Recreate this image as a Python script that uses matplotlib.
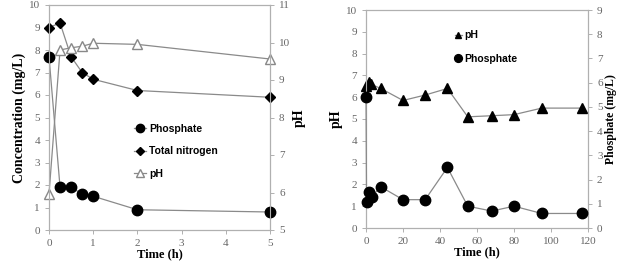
import matplotlib.pyplot as plt

# left panel: short-term test (0-5 h)
time_a = [0, 0.25, 0.5, 0.75, 1, 2, 5]
phosphate_a = [7.7, 1.9, 1.9, 1.6, 1.5, 0.9, 0.8]
nitrogen_a = [9.0, 9.2, 7.7, 7.0, 6.7, 6.2, 5.9]
ph_a = [5.96, 9.8, 9.86, 9.9, 9.98, 9.95, 9.56]

# right panel: long-term test (0-117 h)
time_ph_b = [0, 1.5, 2.5, 8, 20, 32, 44, 55, 68, 80, 95, 117]
ph_b = [6.5, 6.7, 6.6, 6.4, 5.85, 6.1, 6.4, 5.1, 5.15, 5.2, 5.5, 5.5]
time_p_b = [0, 0.3, 1.5, 3, 8, 20, 32, 44, 55, 68, 80, 95, 117]
phosphate_b = [5.4, 1.08, 1.5, 1.3, 1.7, 1.17, 1.17, 2.5, 0.9, 0.7, 0.9, 0.6, 0.6]

serif = "Liberation Serif"
sans = "Liberation Sans"
line_c = "#8a8a8a"
tick_c = "#666666"


def style_axis(ax):
    for s in ax.spines.values():
        s.set_color("#b0b0b0")
        s.set_linewidth(0.8)
    ax.tick_params(colors="#b0b0b0", labelcolor=tick_c, labelsize=8, length=3, width=0.7)
    for lab in ax.get_xticklabels() + ax.get_yticklabels():
        lab.set_family(serif)


fig = plt.figure(figsize=(6.38, 2.63), dpi=100)

# ---- left panel ----
ax1 = fig.add_axes([49 / 638, 1 - 230 / 263, 221 / 638, 225 / 263])
ax1r = ax1.twinx()
l1, = ax1.plot(time_a, phosphate_a, "-o", color=line_c, lw=0.9, mfc="black", mec="black", ms=7.5,
               label="Phosphate", clip_on=False, zorder=3)
l2, = ax1.plot(time_a, nitrogen_a, "-D", color=line_c, lw=0.9, mfc="black", mec="black", ms=5.5,
               label="Total nitrogen", clip_on=False, zorder=3)
l3, = ax1r.plot(time_a, ph_a, "-^", color=line_c, lw=0.9, mfc="white", mec="#888888", ms=7,
                label="pH", clip_on=False)
ax1.set_xlim(0, 5)
ax1.set_ylim(0, 10)
ax1r.set_ylim(5, 11)
ax1.set_yticks(range(0, 11))
ax1r.set_yticks(range(5, 12))
ax1.set_xticks(range(0, 6))
ax1.set_xlabel("Time (h)", family=serif, fontweight="bold", fontsize=9, labelpad=0)
ax1.set_ylabel("Concentration (mg/L)", family=serif, fontweight="bold", fontsize=10, labelpad=2)
ax1r.set_ylabel("pH", family=serif, fontweight="bold", fontsize=10, labelpad=2)
style_axis(ax1)
style_axis(ax1r)
ax1.legend(handles=[l1, l2, l3], loc="center left", bbox_to_anchor=(0.34, 0.35), frameon=False,
           prop={"family": sans, "weight": "bold", "size": 7.5}, handlelength=1.2, handletextpad=0.3,
           labelspacing=1.2, markerscale=0.8)

# ---- right panel ----
ax2 = fig.add_axes([366 / 638, 1 - 228 / 263, 222 / 638, 218 / 263])
ax2r = ax2.twinx()
m1, = ax2.plot(time_ph_b, ph_b, "-^", color=line_c, lw=0.9, mfc="black", mec="black", ms=6.5,
               label="pH", clip_on=False, zorder=3)
m2, = ax2r.plot(time_p_b, phosphate_b, "-o", color=line_c, lw=0.9, mfc="black", mec="black", ms=7.5,
                label="Phosphate", clip_on=False, zorder=3)
ax2.set_xlim(0, 120)
ax2.set_ylim(0, 10)
ax2r.set_ylim(0, 9)
ax2.set_yticks(range(0, 11))
ax2r.set_yticks(range(0, 10))
ax2.set_xticks(range(0, 121, 20))
ax2.set_xlabel("Time (h)", family=serif, fontweight="bold", fontsize=9, labelpad=0)
ax2.set_ylabel("pH", family=serif, fontweight="bold", fontsize=10, labelpad=2)
ax2r.set_ylabel("Phosphate (mg/L)", family=serif, fontweight="bold", fontsize=8.5, labelpad=2)
style_axis(ax2)
style_axis(ax2r)
ax2.legend(handles=[m1, m2], loc="upper left", bbox_to_anchor=(0.36, 0.95), frameon=False,
           prop={"family": sans, "weight": "bold", "size": 7.5}, handlelength=0.6, handletextpad=0.3,
           labelspacing=1.3, markerscale=0.75)

fig.savefig("out.png", dpi=100)
